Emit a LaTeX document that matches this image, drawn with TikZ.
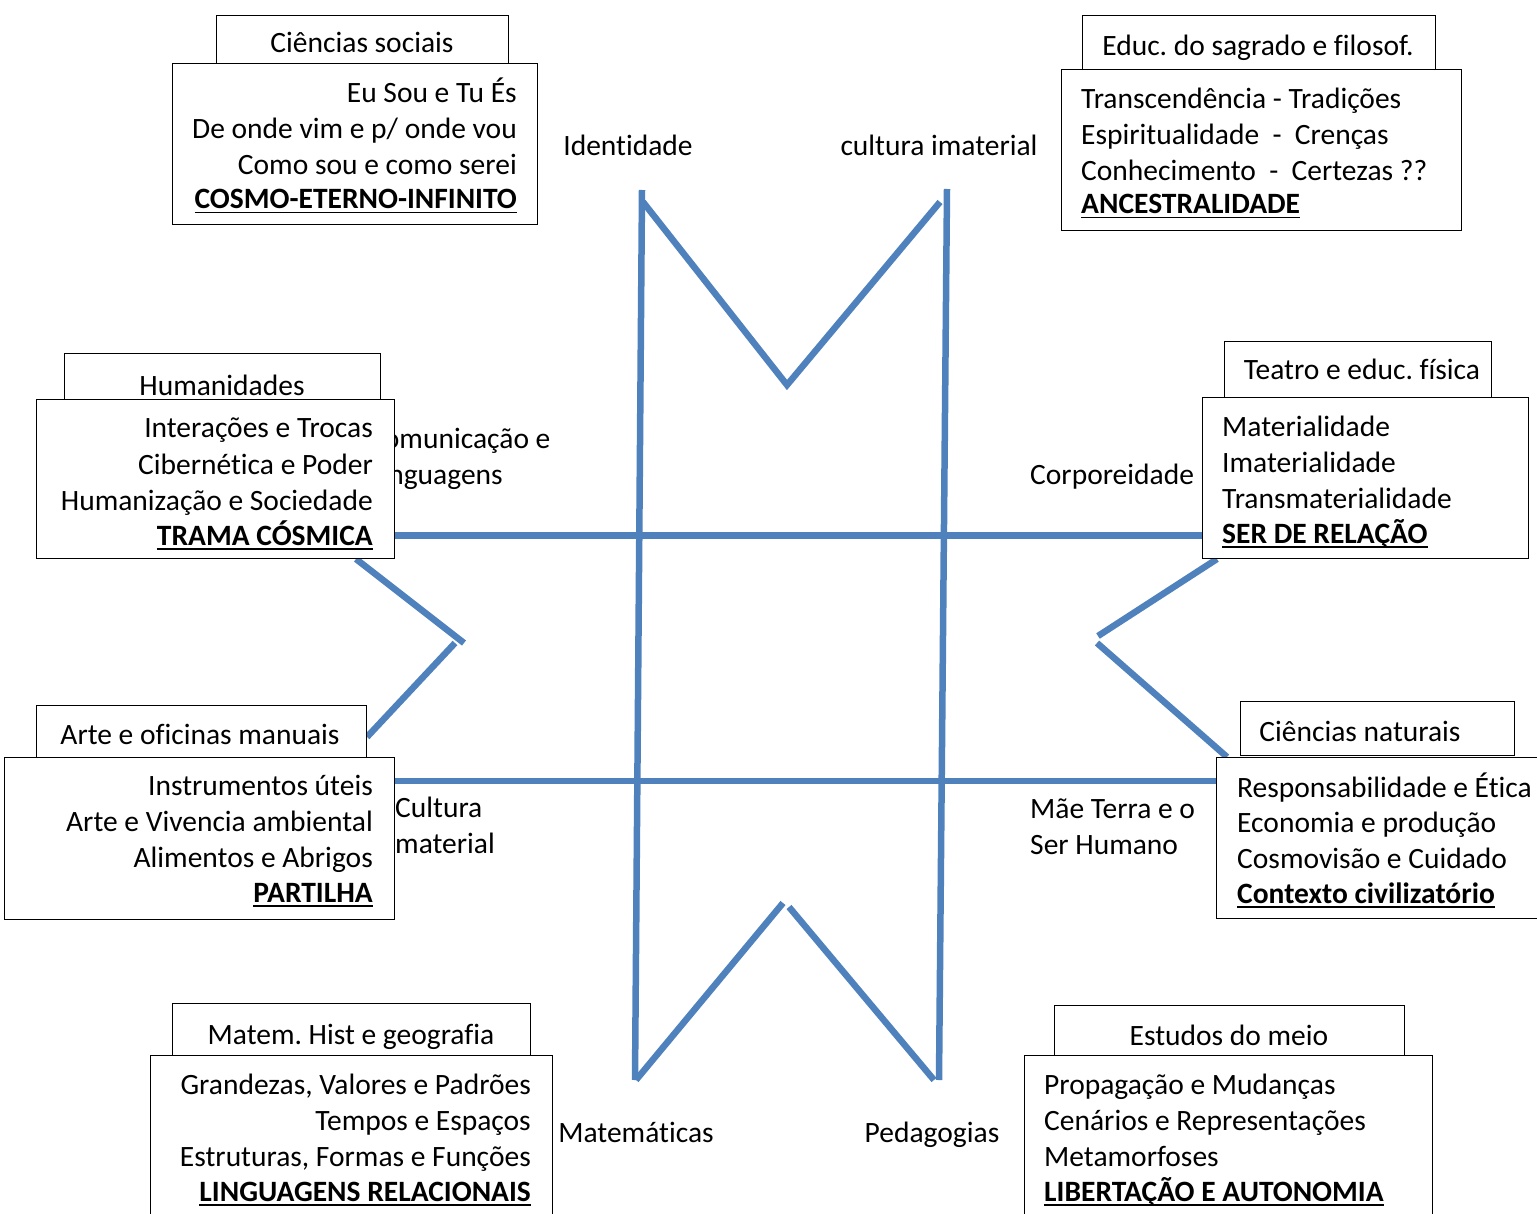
\documentclass[tikz,border=0pt]{standalone}
\usepackage{fontspec}
\setmainfont[Ligatures=NoCommon]{Carlito}
\definecolor{lineblue}{HTML}{4F81BD}
\newcommand\myul[1]{\setbox0\hbox{#1}\rlap{\rule[-4.5pt]{\wd0}{1.8pt}}\box0}
\frenchspacing
\begin{document}
\begin{tikzpicture}[x=1pt,y=-1pt,
  txt/.style={font=\fontsize{29.5}{35}\selectfont, inner sep=0pt},
  boxr/.style={draw=black, line width=1.3pt, fill=white, inner sep=0pt, anchor=north west},
  bl/.style={draw=lineblue, line width=6.5pt}]
\useasboundingbox (0,0) rectangle (1537,1214);

% ---------- blue structure ----------
\coordinate (vlT) at (642,190);  \coordinate (vlB) at (635,1080);
\coordinate (vrT) at (947,189);  \coordinate (vrB) at (939,1080);
\coordinate (mA) at (643,202); \coordinate (mV) at (787,385); \coordinate (mB) at (940,202);
\coordinate (wA) at (636,1080); \coordinate (wL) at (783,903);
\coordinate (wR) at (789,907); \coordinate (wB) at (934,1080);
\coordinate (hu1) at (394,535.5); \coordinate (hu2) at (1202,535.5);
\coordinate (hl1) at (394,781); \coordinate (hl2) at (1216,781);
\coordinate (lA) at (356,559); \coordinate (lV1) at (464,643);
\coordinate (lV2) at (455,643); \coordinate (lB) at (367,737);
\coordinate (rA) at (1217,559); \coordinate (rV1) at (1098,636);
\coordinate (rV2) at (1097,643); \coordinate (rB) at (1227,757);

\draw[bl] (vlT) -- (vlB);
\draw[bl] (vrT) -- (vrB);
\draw[bl] (mA) -- (mV) -- (mB);
\draw[bl] (wA) -- (wL);
\draw[bl] (wR) -- (wB);
\draw[bl] (hu1) -- (hu2);
\draw[bl] (hl1) -- (hl2);
\draw[bl] (lA) -- (lV1);
\draw[bl] (lV2) -- (lB);
\draw[bl] (rA) -- (rV1);
\draw[bl] (rV2) -- (rB);

% ---------- free labels ----------
\node[txt,anchor=base] (lid) at (628,156) {Identidade};
\node[txt,anchor=base] (lci) at (939,156) {cultura imaterial};
\node[txt,anchor=base west] (lcom1) at (368,448) {Comunicação e};
\node[txt,anchor=base west] (lcom2) at (369,484) {Linguagens};
\node[txt,anchor=base west] (lcor) at (1030,484) {Corporeidade};
\node[txt,anchor=base west] (lcul1) at (395,817) {Cultura};
\node[txt,anchor=base west] (lcul2) at (395,853) {material};
\node[txt,anchor=base west] (lmae1) at (1030,818) {Mãe Terra e o};
\node[txt,anchor=base west] (lmae2) at (1030,854) {Ser Humano};
\node[txt,anchor=base] (lmat) at (636,1142) {Matemáticas};
\node[txt,anchor=base] (lped) at (932,1142) {Pedagogias};

% ---------- Ciências sociais ----------
\node[boxr,minimum width=292,minimum height=48] (csH) at (216,15) {};
\node[txt,anchor=base] (csT) at (362,53) {Ciências sociais};
\node[boxr,minimum width=365,minimum height=161] (csM) at (172,63) {};
\node[txt,anchor=base east] (cs1) at (517,103) {Eu Sou e Tu És};
\node[txt,anchor=base east] (cs2) at (517,139) {De onde vim e p/ onde vou};
\node[txt,anchor=base east] (cs3) at (517,175) {Como sou e como serei};
\node[txt,anchor=base east] (cs4) at (517,209) {\bfseries\myul{COSMO-ETERNO-INFINITO}};

% ---------- Educ. do sagrado ----------
\node[boxr,minimum width=353,minimum height=54] (edH) at (1082,15) {};
\node[txt,anchor=base] (edT) at (1258,56) {Educ. do sagrado e filosof.};
\node[boxr,minimum width=400,minimum height=161] (edM) at (1061,69) {};
\node[txt,anchor=base west] (ed1) at (1081,109) {Transcendência - Tradições};
\node[txt,anchor=base west] (ed2) at (1081,145) {Espiritualidade \ - \ Crenças};
\node[txt,anchor=base west] (ed3) at (1081,181) {Conhecimento \ - \ Certezas ??};
\node[txt,anchor=base west] (ed4) at (1081,214) {\bfseries\myul{ANCESTRALIDADE}};

% ---------- Humanidades ----------
\node[boxr,minimum width=316,minimum height=46] (huH) at (64,353) {};
\node[txt,anchor=base] (huT) at (222,396) {Humanidades};
\node[boxr,minimum width=358,minimum height=159] (huM) at (36,399) {};
\node[txt,anchor=base east] (hu1t) at (373,438) {Interações e Trocas};
\node[txt,anchor=base east] (hu2t) at (373,474) {Cibernética e Poder};
\node[txt,anchor=base east] (hu3t) at (373,510) {Humanização e Sociedade};
\node[txt,anchor=base east] (hu4t) at (373,545) {\bfseries\myul{TRAMA CÓSMICA}};

% ---------- Teatro ----------
\node[boxr,minimum width=267,minimum height=56] (teH) at (1224,341) {};
\node[txt,anchor=base] (teT) at (1362,380) {Teatro e educ. física};
\node[boxr,minimum width=326,minimum height=161] (teM) at (1202,397) {};
\node[txt,anchor=base west] (te1) at (1222,436) {Materialidade};
\node[txt,anchor=base west] (te2) at (1222,472) {Imaterialidade};
\node[txt,anchor=base west] (te3) at (1222,508) {Transmaterialidade};
\node[txt,anchor=base west] (te4) at (1222,543) {\bfseries\myul{SER DE RELAÇÃO}};

% ---------- Arte ----------
\node[boxr,minimum width=330,minimum height=52] (arH) at (36,705) {};
\node[txt,anchor=base] (arT) at (200,744) {Arte e oficinas manuais};
\node[boxr,minimum width=390,minimum height=162] (arM) at (4,757) {};
\node[txt,anchor=base east] (ar1) at (373,795) {Instrumentos úteis};
\node[txt,anchor=base east] (ar2) at (373,831) {Arte e Vivencia ambiental};
\node[txt,anchor=base east] (ar3) at (373,867) {Alimentos e Abrigos};
\node[txt,anchor=base east] (ar4) at (373,902) {\bfseries\myul{PARTILHA}};

% ---------- Ciências naturais ----------
\node[boxr,minimum width=274,minimum height=54] (cnH) at (1240,701) {};
\node[txt,anchor=base] (cnT) at (1360,741) {Ciências naturais};
\node[boxr,minimum width=344,minimum height=161] (cnM) at (1216,757) {};
\node[txt,anchor=base west] (cn1) at (1237,797) {Responsabilidade e Ética};
\node[txt,anchor=base west] (cn2) at (1237,832) {Economia e produção};
\node[txt,anchor=base west] (cn3) at (1237,868) {Cosmovisão e Cuidado};
\node[txt,anchor=base west] (cn4) at (1237,903) {\bfseries\myul{Contexto civilizatório}};

% ---------- Matem. Hist e geografia ----------
\node[boxr,minimum width=358,minimum height=52] (maH) at (172,1003) {};
\node[txt,anchor=base] (maT) at (351,1044) {Matem. Hist e geografia};
\node[boxr,minimum width=402,minimum height=185] (maM) at (150,1055) {};
\node[txt,anchor=base east] (ma1) at (531,1094) {Grandezas, Valores e Padrões};
\node[txt,anchor=base east] (ma2) at (531,1130) {Tempos e Espaços};
\node[txt,anchor=base east] (ma3) at (531,1166) {Estruturas, Formas e Funções};
\node[txt,anchor=base east] (ma4) at (531,1201) {\bfseries\myul{LINGUAGENS RELACIONAIS}};

% ---------- Estudos do meio ----------
\node[boxr,minimum width=350,minimum height=50] (esH) at (1054,1005) {};
\node[txt,anchor=base] (esT) at (1229,1045) {Estudos do meio};
\node[boxr,minimum width=408,minimum height=185] (esM) at (1024,1055) {};
\node[txt,anchor=base west] (es1) at (1044,1094) {Propagação e Mudanças};
\node[txt,anchor=base west] (es2) at (1044,1130) {Cenários e Representações};
\node[txt,anchor=base west] (es3) at (1044,1166) {Metamorfoses};
\node[txt,anchor=base west] (es4) at (1044,1201) {\bfseries\myul{LIBERTAÇÃO E AUTONOMIA}};
\end{tikzpicture}
\end{document}
